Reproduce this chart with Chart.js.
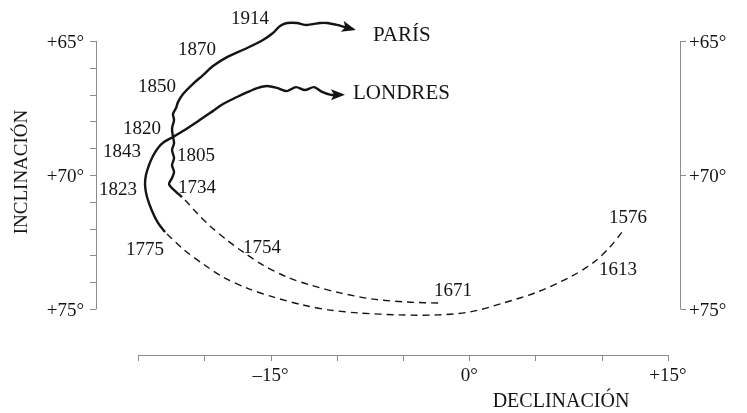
<!DOCTYPE html>
<html lang="es">
<head>
    <meta charset="UTF-8">
    <title>Declinación e inclinación: París y Londres</title>
    <script src="https://cdn.jsdelivr.net/npm/chart.js"></script>
    <style>
        body { margin: 0; background: #fff; }
        #wrap { width: 747px; height: 413px; }
    </style>
</head>
<body>
    <div id="wrap"><canvas id="chart" width="747" height="413"></canvas></div>
    <script>
        // Paris, solid part (1734 -> today)
        const parisSolidDecl = [-21.68, -22.13, -22.66, -22.43, -22.28, -22.43, -22.28, -22.43, -22.28, -22.36, -22.43, -22.28, -22.36, -22.13, -21.98, -21.60, -20.85, -20.09, -19.34, -18.28, -16.77, -15.57, -14.81, -14.28, -13.75, -13.0, -12.40, -11.79, -11.26, -10.74, -9.98, -9.38, -8.85];
        const parisSolidIncl = [70.82, 70.63, 70.34, 70.11, 69.89, 69.63, 69.37, 69.07, 68.81, 68.58, 68.25, 67.95, 67.72, 67.50, 67.28, 66.98, 66.60, 66.27, 65.93, 65.60, 65.26, 64.96, 64.70, 64.44, 64.33, 64.33, 64.40, 64.37, 64.33, 64.33, 64.40, 64.48, 64.55];
        // Paris, dashed part (1671 -> 1734)
        const parisDashDecl = [-21.45, -20.55, -19.57, -18.28, -17.08, -15.57, -13.75, -12.02, -9.75, -7.26, -4.70, -1.98];
        const parisDashIncl = [70.93, 71.42, 71.90, 72.43, 72.87, 73.36, 73.81, 74.10, 74.40, 74.63, 74.74, 74.78];
        // London, solid part (1775 -> today)
        const londonSolidDecl = [-22.96, -23.49, -23.94, -24.32, -24.47, -24.40, -24.17, -23.87, -23.49, -23.04, -22.36, -21.60, -20.55, -19.57, -18.58, -17.53, -16.70, -15.94, -15.26, -14.51, -13.75, -13.08, -12.40, -11.72, -11.11, -10.43, -9.68];
        const londonSolidIncl = [72.13, 71.79, 71.34, 70.82, 70.37, 70.0, 69.63, 69.29, 68.99, 68.77, 68.58, 68.36, 68.02, 67.69, 67.35, 67.09, 66.90, 66.75, 66.68, 66.75, 66.87, 66.72, 66.83, 66.72, 66.90, 67.01, 67.01];
        // London, dashed part (1576 -> 1775)
        const londonDashDecl = [-22.81, -21.60, -20.09, -18.58, -16.77, -14.81, -12.55, -10.51, -8.25, -5.23, -2.43, 0.06, 2.55, 5.11, 7.6, 9.34, 10.62, 11.53];
        const londonDashIncl = [72.20, 72.76, 73.32, 73.81, 74.22, 74.55, 74.85, 75.04, 75.15, 75.22, 75.22, 75.11, 74.78, 74.37, 73.81, 73.28, 72.69, 72.13];

        const years = ['1914', '1870', '1850', '1820', '1843', '1805', '1823', '1734', '1775', '1754', '1671', '1576', '1613'];
        const yearDecl = [-16.55, -20.55, -23.57, -24.70, -26.21, -20.62, -26.51, -20.55, -24.47, -15.64, -1.23, 11.98, 11.23];
        const yearIncl = [64.18, 65.34, 66.72, 68.28, 69.14, 69.29, 70.56, 70.49, 72.80, 72.72, 74.33, 71.60, 73.54];

        const cities = ['PARÍS', 'LONDRES'];
        const cityDecl = [-7.26, -8.77];
        const cityIncl = [64.78, 66.94];

        const inclTicks = [65, 66, 67, 68, 69, 70, 71, 72, 73, 74, 75];
        const inclLabels = { 65: '+65°', 70: '+70°', 75: '+75°' };
        const declTicks = [-25, -20, -15, -10, -5, 0, 5, 10, 15];
        const declLabels = { '-15': '–15°', '0': '0°', '15': '+15°' };

        const serif = '"Liberation Serif", "Times New Roman", serif';
        const axisColor = '#8c8c8c';
        const ink = '#141414';

        function pts(xs, ys) {
            return xs.map((x, i) => ({ x: x, y: ys[i] }));
        }

        const solid = { borderColor: ink, borderWidth: 2.4, pointRadius: 0, showLine: true, tension: 0.3, fill: false };
        const dashed = { borderColor: ink, borderWidth: 1.4, borderDash: [7, 5], pointRadius: 0, showLine: true, tension: 0.3, fill: false };

        const annotations = {
            id: 'annotations',
            beforeDatasetsDraw(chart) {
                const c = chart.ctx, xs = chart.scales.x, ys = chart.scales.y, a = chart.chartArea;
                c.save();
                c.strokeStyle = axisColor;
                c.lineWidth = 1;
                c.fillStyle = ink;
                c.font = '19px ' + serif;
                c.textBaseline = 'middle';

                // left axis
                const yTop = ys.getPixelForValue(65), yBot = ys.getPixelForValue(75);
                c.beginPath();
                c.moveTo(a.left + 0.5, yTop);
                c.lineTo(a.left + 0.5, yBot);
                inclTicks.forEach(v => {
                    const p = Math.round(ys.getPixelForValue(v)) + 0.5;
                    c.moveTo(a.left - 6, p);
                    c.lineTo(a.left + 0.5, p);
                });
                c.stroke();
                c.textAlign = 'right';
                inclTicks.forEach(v => {
                    if (inclLabels[v]) c.fillText(inclLabels[v], a.left - 12, ys.getPixelForValue(v) + 2);
                });

                // right axis
                c.beginPath();
                c.moveTo(a.right + 0.5, yTop);
                c.lineTo(a.right + 0.5, yBot);
                [65, 70, 75].forEach(v => {
                    const p = Math.round(ys.getPixelForValue(v)) + 0.5;
                    c.moveTo(a.right + 0.5, p);
                    c.lineTo(a.right + 6, p);
                });
                c.stroke();
                c.textAlign = 'left';
                [65, 70, 75].forEach(v => {
                    c.fillText(inclLabels[v], a.right + 9, ys.getPixelForValue(v) + 2);
                });

                // bottom axis
                const xL = xs.getPixelForValue(-25), xR = xs.getPixelForValue(15);
                c.beginPath();
                c.moveTo(xL, a.bottom + 0.5);
                c.lineTo(xR, a.bottom + 0.5);
                declTicks.forEach(v => {
                    const p = Math.round(xs.getPixelForValue(v)) + 0.5;
                    c.moveTo(p, a.bottom);
                    c.lineTo(p, a.bottom + 6);
                });
                c.stroke();
                c.textAlign = 'center';
                declTicks.forEach(v => {
                    const t = declLabels[String(v)];
                    if (t) c.fillText(t, xs.getPixelForValue(v), a.bottom + 21);
                });

                // axis titles
                c.font = '20px ' + serif;
                c.fillText('DECLINACIÓN', 561, 402);
                c.save();
                c.translate(22, 172);
                c.rotate(-Math.PI / 2);
                c.font = '19px ' + serif;
                c.fillText('INCLINACIÓN', 0, 0);
                c.restore();

                // year labels
                c.font = '19px ' + serif;
                c.textAlign = 'center';
                years.forEach((t, i) => {
                    c.fillText(t, xs.getPixelForValue(yearDecl[i]), ys.getPixelForValue(yearIncl[i]));
                });

                // city labels
                c.font = '21px ' + serif;
                c.textAlign = 'left';
                cities.forEach((t, i) => {
                    c.fillText(t, xs.getPixelForValue(cityDecl[i]), ys.getPixelForValue(cityIncl[i]));
                });
                c.restore();
            },
            afterDatasetsDraw(chart) {
                // arrow heads at the ends of the solid curves
                const c = chart.ctx;
                [0, 2].forEach(di => {
                    const d = chart.getDatasetMeta(di).data;
                    const p1 = d[d.length - 2], p2 = d[d.length - 1];
                    const ang = Math.atan2(p2.y - p1.y, p2.x - p1.x);
                    const len = 14, half = 5.5;
                    c.save();
                    c.translate(p2.x + Math.cos(ang) * 4, p2.y + Math.sin(ang) * 4);
                    c.rotate(ang);
                    c.fillStyle = ink;
                    c.beginPath();
                    c.moveTo(0, 0);
                    c.lineTo(-len, -half);
                    c.lineTo(-len + 3, 0);
                    c.lineTo(-len, half);
                    c.closePath();
                    c.fill();
                    c.restore();
                });
            }
        };

        new Chart(document.getElementById('chart'), {
            type: 'scatter',
            data: {
                datasets: [
                    Object.assign({ label: 'París', data: pts(parisSolidDecl, parisSolidIncl) }, solid),
                    Object.assign({ label: 'París (antes)', data: pts(parisDashDecl, parisDashIncl) }, dashed),
                    Object.assign({ label: 'Londres', data: pts(londonSolidDecl, londonSolidIncl) }, solid),
                    Object.assign({ label: 'Londres (antes)', data: pts(londonDashDecl, londonDashIncl) }, dashed)
                ]
            },
            options: {
                responsive: false,
                animation: false,
                devicePixelRatio: 1,
                layout: { padding: { left: 96, right: 67, top: 0, bottom: 58 } },
                plugins: { legend: { display: false }, tooltip: { enabled: false } },
                scales: {
                    x: { type: 'linear', min: -28.17, max: 15.906, display: false },
                    y: { type: 'linear', min: 63.47, max: 76.716, reverse: true, display: false }
                },
                elements: { line: { capBezierPoints: true } },
                clip: false
            },
            plugins: [annotations]
        });
    </script>
</body>
</html>
